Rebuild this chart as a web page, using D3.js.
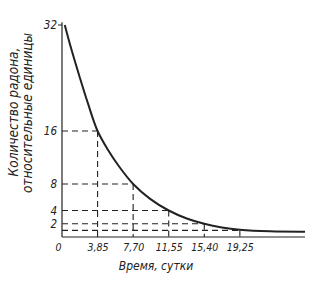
<!DOCTYPE html>
<html>
<head>
<meta charset="utf-8">
<script src="https://cdn.jsdelivr.net/npm/d3@7"></script>
<style>
  body { margin: 0; background: #fff; }
  svg { display: block; }
  text { font-family: "DejaVu Sans Condensed", "Liberation Sans", sans-serif; font-style: italic; fill: #222; }
</style>
</head>
<body>
<svg id="chart" width="309" height="282"></svg>
<script>
// curve
const days = [0.3, 1.0, 1.9, 2.8, 3.85, 5.0, 6.2, 7.7, 9.5, 11.55, 13.5, 15.4, 17.3, 19.25, 22.5, 26.3];
const amount = [32, 28.4, 24.2, 20.2, 16, 13.1, 10.6, 8, 5.8, 4.0, 2.8, 2.0, 1.45, 1.1, 0.85, 0.8];

// half-life guide points
const halfDays = [3.85, 7.70, 11.55, 15.40, 19.25];
const halfAmounts = [16, 8, 4, 2, 1];

const xTicks = [0, 3.85, 7.70, 11.55, 15.40, 19.25];
const xLabels = ['0', '3,85', '7,70', '11,55', '15,40', '19,25'];
const yTicks = [32, 16, 8, 4, 2];

const INK = '#222';
const svg = d3.select('#chart');

const x = d3.scaleLinear().domain([0, 26.3]).range([62, 305]);
const y = d3.scaleLinear().domain([0, 32]).range([237, 25]);

// axes (no tick marks, just labels)
const yAxis = d3.axisLeft(y).tickValues(yTicks).tickSize(0).tickPadding(5);
const gy = svg.append('g').attr('transform', `translate(${x(0)},0)`).call(yAxis);
gy.select('.domain').remove();
gy.selectAll('text').attr('font-size', 11.5).attr('fill', INK).style('font-family', null);

const xAxis = d3.axisBottom(x).tickValues(xTicks).tickSize(0).tickPadding(7)
	.tickFormat((d, i) => xLabels[i]);
const gx = svg.append('g').attr('transform', `translate(0,${y(0)})`).call(xAxis);
gx.select('.domain').remove();
gx.selectAll('text').attr('font-size', 10.5).attr('fill', INK).style('font-family', null);
gx.selectAll('.tick').filter(d => d === 0).select('text').attr('dx', -4);

// axis lines
svg.append('line')
	.attr('x1', x(0)).attr('x2', x(0))
	.attr('y1', y(32.4)).attr('y2', y(0))
	.attr('stroke', INK).attr('stroke-width', 1.2);
svg.append('line')
	.attr('x1', x(0)).attr('x2', x(26.3))
	.attr('y1', y(0)).attr('y2', y(0))
	.attr('stroke', INK).attr('stroke-width', 1.2);
// little mark at the top of the scale
svg.append('line')
	.attr('x1', x(0) - 4).attr('x2', x(0))
	.attr('y1', y(32)).attr('y2', y(32))
	.attr('stroke', INK).attr('stroke-width', 1);

// dashed guides
const guides = svg.append('g')
	.attr('stroke', INK).attr('stroke-width', 1.1)
	.attr('stroke-dasharray', '6 4').attr('fill', 'none');

halfDays.forEach((d, i) => {
	guides.append('line')
		.attr('x1', x(0)).attr('x2', x(d))
		.attr('y1', y(halfAmounts[i])).attr('y2', y(halfAmounts[i]));
	guides.append('line')
		.attr('x1', x(d)).attr('x2', x(d))
		.attr('y1', y(halfAmounts[i])).attr('y2', y(0));
});

// decay curve
const line = d3.line()
	.x((d, i) => x(d))
	.y((d, i) => y(amount[i]))
	.curve(d3.curveCatmullRom.alpha(0.5));

svg.append('path')
	.datum(days)
	.attr('d', line)
	.attr('fill', 'none')
	.attr('stroke', INK)
	.attr('stroke-width', 2);

// axis titles
svg.append('text')
	.attr('transform', 'translate(18,112) rotate(-90)')
	.attr('text-anchor', 'middle')
	.attr('font-size', 13.5)
	.text('Количество радона,');
svg.append('text')
	.attr('transform', 'translate(32,113) rotate(-90)')
	.attr('text-anchor', 'middle')
	.attr('font-size', 13.5)
	.text('относительные единицы');

svg.append('text')
	.attr('x', 156).attr('y', 270)
	.attr('text-anchor', 'middle')
	.attr('font-size', 12)
	.text('Время, сутки');
</script>
</body>
</html>
